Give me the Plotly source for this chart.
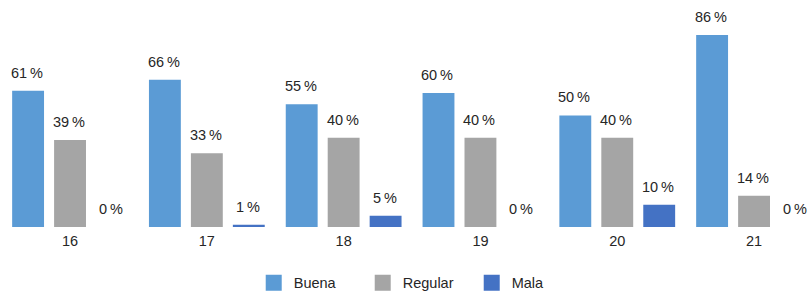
import plotly.graph_objects as go

categories = ["16", "17", "18", "19", "20", "21"]
buena = [61, 66, 55, 60, 50, 86]
regular = [39, 33, 40, 40, 40, 14]
mala = [0, 1, 5, 0, 10, 0]

series = [("Buena", buena, "#5B9BD5"), ("Regular", regular, "#A5A5A5"), ("Mala", mala, "#4472C4")]
xidx = list(range(len(categories)))

fig = go.Figure()
for name, vals, color in series:
    fig.add_trace(go.Bar(x=xidx, y=vals, name=name, marker_color=color, marker_line_width=0,
                         showlegend=False))
# legend-only entries with larger square swatches
for name, vals, color in series:
    fig.add_trace(go.Scatter(x=[None], y=[None], mode="markers", name=name,
                             marker=dict(symbol="square", size=18, color=color)))

annotations = []
shifts = [-42, 0, 42]
for (name, vals, color), sh in zip(series, shifts):
    for i, v in enumerate(vals):
        annotations.append(dict(x=i, y=v, text=f"{v}\u2009%", showarrow=False, xshift=sh - 1,
                                yanchor="bottom", yshift=8,
                                font=dict(family="Liberation Sans, Arial", size=14.5, color="#262626")))

fig.update_layout(
    width=807, height=293,
    margin=dict(l=0, r=0, t=0, b=66, autoexpand=False),
    paper_bgcolor="white", plot_bgcolor="white",
    barmode="group", bargap=0.08, bargroupgap=0.24,
    showlegend=True,
    legend=dict(orientation="h", x=0.517, xanchor="center", y=-0.175, yanchor="top",
                font=dict(family="Liberation Sans, Arial", size=14.5, color="#262626"),
                entrywidth=64, entrywidthmode="pixels", itemwidth=30, itemsizing="trace"),
    xaxis=dict(range=[-0.512, 5.387], tickmode="array", tickvals=xidx, ticktext=categories,
               showgrid=False, zeroline=False, showline=False, ticks="", ticklabelstandoff=3,
               tickfont=dict(family="Liberation Sans, Arial", size=14.5, color="#262626")),
    yaxis=dict(range=[0, 101.7], visible=False, showgrid=False, zeroline=False),
    annotations=annotations,
    font=dict(family="Liberation Sans, Arial"),
)

fig.write_html("out.html", config={"displayModeBar": False},
               post_script="document.body.style.margin='0';document.body.style.overflow='hidden';")
